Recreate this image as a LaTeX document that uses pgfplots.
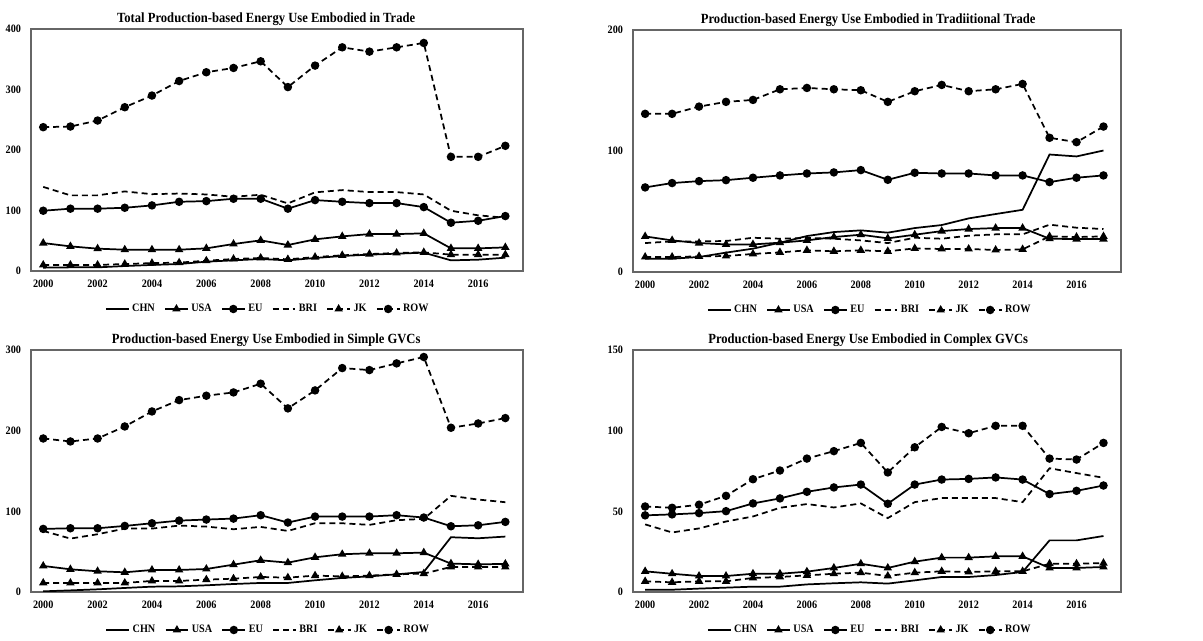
\documentclass[border=0pt]{standalone}
\usepackage{fontspec}
\setmainfont{Liberation Serif}[FakeStretch=0.9]
\usepackage{pgfplots}
\usepackage{pgfplotstable}
\pgfplotsset{compat=1.18}

% year CHN USA EU BRI JK ROW
\pgfplotstableread{
year CHN USA EU BRI JK ROW
2000 5.5 46.2 99.6 139 10 237.7
2001 6 40.7 103 125 10 238.8
2002 6 36.9 103 125 10 248.7
2003 8.2 35.2 104.5 131.5 11.5 270.7
2004 10 35.2 108.4 127 13 290
2005 11.5 35.2 114.4 128 13.8 314
2006 15.4 37.4 115.5 126.5 17 328.5
2007 17.6 44.6 119.4 122.7 19.8 335.6
2008 19.8 50.6 119.4 126 21.5 346.6
2009 17.6 42.9 103 111.7 19.3 304
2010 21.5 52.3 117.2 130 23 339.5
2011 24.8 57.2 114.4 133.7 25.9 369.7
2012 27 61 112.2 130.4 28 362.6
2013 28.6 61 112.2 130.4 29.7 369.7
2014 30.3 62.2 105.6 126.5 30.8 376.9
2015 17.6 37.4 79.8 99.6 27 188.7
2016 18.7 37.4 83 92 27 188.7
2017 22 39 90.8 88 27 206.9
}\total

\pgfplotstableread{
year CHN USA EU BRI JK ROW
2000 11 29.4 69.9 23.9 12.4 130.7
2001 11 26.1 73.5 25.3 12.4 130.7
2002 12.4 23.9 75.1 25.3 12.9 136.7
2003 16 22.8 75.9 25.6 13.2 140.6
2004 19.3 22.8 77.9 28.3 14.9 142.2
2005 24.2 24.2 79.8 27.5 16.2 151
2006 29.7 26.1 81.4 28.1 17.9 152.1
2007 33 28.9 82.3 27.5 17.1 151
2008 34.4 30.8 84.2 26.1 17.9 150.2
2009 32.5 27.8 76.2 23.9 17.1 140.6
2010 36.3 30.8 82 28.3 19.5 149.4
2011 38.8 33.8 81.4 27.5 19 154.6
2012 44.3 35.5 81.4 30 19 149.4
2013 47.9 36.3 79.8 31.1 18.2 151
2014 51.4 36.3 79.8 31.1 18.7 155.4
2015 97.1 27.5 74.3 39.1 29.4 110.9
2016 95.5 27.2 77.9 36.6 28.9 107.3
2017 100.4 27.2 79.8 35.5 29.4 120.2
}\trad

\pgfplotstableread{
year CHN USA EU BRI JK ROW
2000 0.8 32.3 78.2 75.7 11.2 190.3
2001 2 28.1 79 66.2 11.2 186.6
2002 3.3 25.7 79 71.6 11.2 190.3
2003 5 24.4 81.9 78.6 11.2 205.2
2004 6.6 27.3 85.2 78.6 13.7 223.8
2005 7 27.3 88.5 82.3 13.7 237.9
2006 8.3 28.5 89.8 81.1 15.3 243.3
2007 9.9 33.9 91 77.8 16.5 247.4
2008 11.2 39.3 95.2 80.7 18.6 258.2
2009 11.2 36.4 86.1 75.7 17.8 227.6
2010 14.5 43 93.5 85.2 20.3 249.9
2011 17.4 46.8 93.5 85.2 19.4 277.6
2012 19.4 48 93.5 83.2 20.3 275.1
2013 21.9 48 95.2 89 21.9 283.4
2014 24.8 48.8 92.3 90.6 22.8 291.3
2015 67.9 35.2 81.5 119.2 31 203.6
2016 66.6 34.3 82.7 114.6 31 208.9
2017 68.7 34.8 86.9 111.3 31 215.6
}\simple

\pgfplotstableread{
year CHN USA EU BRI JK ROW
2000 1.4 12.8 47.5 41.9 6.6 53
2001 1.4 11.3 48.1 36.9 6 52.2
2002 2.1 9.9 48.9 39.4 6.6 54.1
2003 2.7 9.9 50.1 43.7 6.6 59.6
2004 3.3 11.3 54.9 46.8 8.7 69.9
2005 3.3 11.3 58 52.2 9.3 75.3
2006 4.7 12.6 62.1 54.5 10.3 82.7
2007 5.4 14.9 64.8 52.4 11.3 87.3
2008 6 17.5 66.6 54.9 12 92.4
2009 5.2 14.9 54.7 45.8 9.9 74.1
2010 7.2 18.8 66.6 55.7 12 89.7
2011 9.3 21.3 69.7 58.2 12.8 102.3
2012 9.3 21.3 70.1 58.2 12.4 98.4
2013 10.5 22.1 71 58.2 12.8 103
2014 12.4 22.1 69.7 55.7 12.8 103
2015 32 14.9 60.7 76.7 17.5 82.7
2016 32 14.9 62.7 73.7 17.5 82.1
2017 34.7 15.5 66 70.8 17.9 92.4
}\complex

\pgfplotsset{
  panel/.style={
    scale only axis,
    height=181.5pt,
    xmin=1999.55, xmax=2017.65, ymin=0,
    xtick={2000,2002,...,2016},
    major tick length=0pt,
    axis line style={draw=gray!80!black, line width=0.9pt},
    /pgf/number format/assume math mode=true,
    /pgf/number format/1000 sep={},
    tick label style={font=\fontsize{8.5}{9}\selectfont\bfseries},
    xticklabel style={yshift=-3pt},
    yticklabel style={xshift=-4pt},
    title style={font=\fontsize{10.5}{12}\selectfont\bfseries, anchor=center, yshift=1.5pt},
    legend columns=6,
    legend style={draw=none, fill=none, anchor=center, yshift=-28.5pt,
      font=\fontsize{8.5}{10}\selectfont\bfseries,
      /tikz/every even column/.append style={column sep=5pt}},
  },
  sCHN/.style={black, line width=1.3pt},
  sUSA/.style={black, line width=1.3pt, mark=triangle*, mark size=2.4pt},
  sEU/.style={black, line width=1.3pt, mark=*, mark size=2.5pt},
  sBRI/.style={black, line width=1.3pt, dash pattern=on 4.5pt off 3pt},
  sJK/.style={black, line width=1.3pt, dash pattern=on 4.5pt off 3pt, mark=triangle*, mark size=2.4pt, mark options={solid}},
  sROW/.style={black, line width=1.3pt, dash pattern=on 4.5pt off 3pt, mark=*, mark size=2.5pt, mark options={solid}},
}

\newcommand{\allplots}[1]{%
  \addplot[sCHN] table[x=year, y=CHN] {#1};
  \addplot[sUSA] table[x=year, y=USA] {#1};
  \addplot[sEU] table[x=year, y=EU] {#1};
  \addplot[sBRI] table[x=year, y=BRI] {#1};
  \addplot[sJK] table[x=year, y=JK] {#1};
  \addplot[sROW] table[x=year, y=ROW] {#1};
  \legend{CHN, USA, EU, BRI, JK, ROW}
}

\begin{document}
\begin{tikzpicture}
\useasboundingbox (0pt,0pt) rectangle (902.25pt,480.75pt);

\begin{axis}[panel, at={(23.25pt,277.5pt)}, anchor=south west, width=369pt,
  ymax=400, ytick={0,100,...,400},
  title={Total Production-based Energy Use Embodied in Trade},
  title style={at={(0.478,1)}},
  legend style={at={(0.482,0)}}]
\allplots{\total}
\end{axis}

\begin{axis}[panel, at={(474.75pt,276.75pt)}, anchor=south west, width=366pt,
  ymax=200, ytick={0,100,200},
  title={Production-based Energy Use Embodied in Tradiitional Trade},
  title style={at={(0.482,1)}},
  legend style={at={(0.486,0)}}]
\allplots{\trad}
\end{axis}

\begin{axis}[panel, at={(23.25pt,36.75pt)}, anchor=south west, width=369pt,
  ymax=300, ytick={0,100,...,300},
  title={Production-based Energy Use Embodied in Simple GVCs},
  title style={at={(0.478,1)}},
  legend style={at={(0.483,0)}}]
\allplots{\simple}
\end{axis}

\begin{axis}[panel, at={(474.75pt,36.75pt)}, anchor=south west, width=366pt,
  ymax=150, ytick={0,50,...,150},
  title={Production-based Energy Use Embodied in Complex GVCs},
  title style={at={(0.482,1)}},
  legend style={at={(0.486,0)}}]
\allplots{\complex}
\end{axis}
\end{tikzpicture}
\end{document}
